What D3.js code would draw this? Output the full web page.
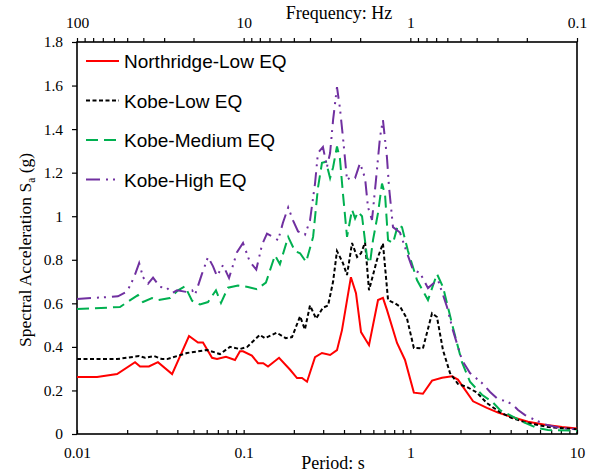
<!DOCTYPE html>
<html>
<head>
<meta charset="utf-8">
<script src="https://cdn.jsdelivr.net/npm/d3@7"></script>
<style>
  body { margin: 0; background: #fff; }
  .tick text { font-family: "Liberation Serif", "Times New Roman", serif; font-size: 15.5px; fill: #000; }
  .tick line { stroke: #000; stroke-width: 1.2; }
  .domain { display: none; }
</style>
</head>
<body>
<div id="chart"></div>
<script>
// period (s) and spectral acceleration (g)
const northridgeLowT = [0.01, 0.0132, 0.0174, 0.0223, 0.0239, 0.027, 0.0306, 0.0372, 0.047, 0.0532, 0.057, 0.0646, 0.0692, 0.0783, 0.0887, 0.095, 0.0991, 0.112, 0.122, 0.131, 0.14, 0.163, 0.19, 0.209, 0.224, 0.24, 0.268, 0.295, 0.33, 0.363, 0.389, 0.44, 0.472, 0.506, 0.565, 0.64, 0.685, 0.724, 0.832, 0.929, 1.05, 1.19, 1.35, 1.55, 1.78, 1.93, 2.38, 2.88, 3.36, 4.07, 5.08, 6.43, 8.13, 10];
const northridgeLowSa = [0.262, 0.262, 0.275, 0.33, 0.31, 0.31, 0.33, 0.275, 0.45, 0.42, 0.42, 0.35, 0.345, 0.355, 0.34, 0.38, 0.38, 0.36, 0.325, 0.325, 0.31, 0.35, 0.295, 0.257, 0.257, 0.24, 0.353, 0.372, 0.363, 0.385, 0.477, 0.72, 0.647, 0.468, 0.408, 0.615, 0.625, 0.57, 0.418, 0.34, 0.19, 0.185, 0.245, 0.258, 0.265, 0.25, 0.15, 0.12, 0.098, 0.078, 0.056, 0.042, 0.032, 0.025];

const kobeLowT = [0.01, 0.0174, 0.0236, 0.0256, 0.029, 0.0324, 0.0347, 0.0457, 0.0603, 0.0721, 0.0828, 0.095, 0.105, 0.125, 0.134, 0.158, 0.179, 0.195, 0.218, 0.233, 0.25, 0.272, 0.299, 0.321, 0.344, 0.363, 0.394, 0.417, 0.447, 0.479, 0.506, 0.535, 0.565, 0.631, 0.685, 0.735, 0.809, 0.867, 0.955, 1.05, 1.19, 1.35, 1.445, 1.57, 1.73, 1.93, 2.19, 2.51, 2.88, 3.45, 4.07, 5.08, 6.7, 10];
const kobeLowSa = [0.344, 0.344, 0.358, 0.35, 0.358, 0.344, 0.344, 0.372, 0.386, 0.367, 0.4, 0.39, 0.4, 0.455, 0.44, 0.465, 0.44, 0.445, 0.54, 0.48, 0.59, 0.53, 0.58, 0.59, 0.7, 0.84, 0.785, 0.73, 0.877, 0.813, 0.83, 0.88, 0.66, 0.8, 0.875, 0.615, 0.6, 0.585, 0.53, 0.395, 0.393, 0.555, 0.537, 0.385, 0.28, 0.23, 0.216, 0.19, 0.142, 0.1, 0.073, 0.05, 0.032, 0.022];

const kobeMediumT = [0.01, 0.0181, 0.0232, 0.0249, 0.0282, 0.0306, 0.0361, 0.0404, 0.0445, 0.049, 0.0547, 0.0611, 0.0682, 0.0731, 0.0805, 0.0925, 0.106, 0.12, 0.136, 0.154, 0.165, 0.185, 0.203, 0.218, 0.237, 0.261, 0.279, 0.295, 0.312, 0.33, 0.344, 0.363, 0.378, 0.394, 0.417, 0.447, 0.466, 0.485, 0.513, 0.55, 0.573, 0.597, 0.64, 0.676, 0.705, 0.735, 0.787, 0.843, 0.891, 0.968, 1.096, 1.276, 1.445, 1.57, 1.8, 2.04, 2.28, 2.69, 3.13, 3.45, 3.96, 4.74, 5.75, 6.7, 10];
const kobeMediumSa = [0.574, 0.583, 0.638, 0.606, 0.624, 0.615, 0.624, 0.66, 0.678, 0.612, 0.595, 0.606, 0.66, 0.602, 0.672, 0.682, 0.675, 0.665, 0.695, 0.82, 0.78, 0.905, 0.84, 0.83, 0.79, 0.905, 1.13, 1.245, 1.25, 1.175, 1.225, 1.32, 1.265, 1.105, 0.905, 1.03, 0.99, 1.02, 1.0, 0.81, 0.785, 0.89, 1.015, 1.15, 1.1, 0.89, 0.877, 0.96, 0.95, 0.84, 0.707, 0.615, 0.735, 0.675, 0.49, 0.33, 0.24, 0.18, 0.145, 0.11, 0.087, 0.055, 0.028, 0.018, 0.015];

const kobeHighT = [0.01, 0.0176, 0.02, 0.022, 0.0236, 0.0249, 0.0267, 0.0286, 0.0315, 0.0347, 0.0372, 0.0398, 0.0457, 0.049, 0.0511, 0.0562, 0.0611, 0.0655, 0.0692, 0.0752, 0.0817, 0.0912, 0.0991, 0.109, 0.119, 0.129, 0.138, 0.15, 0.161, 0.172, 0.185, 0.198, 0.212, 0.233, 0.25, 0.268, 0.279, 0.299, 0.316, 0.33, 0.344, 0.363, 0.378, 0.394, 0.417, 0.44, 0.466, 0.499, 0.535, 0.557, 0.589, 0.622, 0.658, 0.685, 0.724, 0.745, 0.787, 0.867, 0.955, 1.038, 1.143, 1.276, 1.368, 1.466, 1.66, 1.8, 2.04, 2.28, 2.69, 3.01, 3.36, 3.7, 4.07, 4.43, 4.88, 5.6, 6.61, 7.91, 10];
const kobeHighSa = [0.62, 0.632, 0.655, 0.72, 0.785, 0.72, 0.69, 0.718, 0.675, 0.67, 0.647, 0.66, 0.652, 0.66, 0.64, 0.735, 0.813, 0.77, 0.725, 0.776, 0.716, 0.835, 0.877, 0.79, 0.755, 0.87, 0.92, 0.905, 0.89, 0.97, 1.04, 0.98, 0.93, 0.914, 0.98, 1.15, 1.29, 1.318, 1.226, 1.29, 1.442, 1.593, 1.497, 1.364, 1.166, 1.18, 1.175, 1.244, 1.175, 1.042, 0.983, 1.166, 1.364, 1.442, 1.27, 1.134, 0.95, 0.925, 0.831, 0.753, 0.74, 0.67, 0.69, 0.707, 0.583, 0.477, 0.34, 0.28, 0.234, 0.193, 0.16, 0.152, 0.138, 0.11, 0.087, 0.064, 0.041, 0.028, 0.022];

const seriesNames = ['Northridge-Low EQ', 'Kobe-Low EQ', 'Kobe-Medium EQ', 'Kobe-High EQ'];
const yTicks = [0, 0.2, 0.4, 0.6, 0.8, 1, 1.2, 1.4, 1.6, 1.8];
const periodLabels = [0.01, 0.1, 1, 10];
const freqLabels = [100, 10, 1, 0.1];

const width = 595, height = 472;
const margin = { left: 77, top: 42, right: 18, bottom: 38 };

const series = [
    { name: seriesNames[0], t: northridgeLowT, sa: northridgeLowSa, color: '#ff0000', dash: null },
    { name: seriesNames[1], t: kobeLowT, sa: kobeLowSa, color: '#000000', dash: '4,2.5' },
    { name: seriesNames[2], t: kobeMediumT, sa: kobeMediumSa, color: '#00b050', dash: '12,6' },
    { name: seriesNames[3], t: kobeHighT, sa: kobeHighSa, color: '#7030a0', dash: '14,6,2,5,2,6' }
];

const x = d3.scaleLog().domain([0.01, 10]).range([margin.left, width - margin.right]);
const xf = d3.scaleLog().domain([100, 0.1]).range([margin.left, width - margin.right]);
const y = d3.scaleLinear().domain([0, 1.8]).range([height - margin.bottom, margin.top]);

// minor log ticks: 1..9 in each decade
function logTicks(lo, hi) {
    const out = [];
    for (let e = Math.log10(lo); e < Math.log10(hi); e++) {
        for (let k = 1; k < 10; k++) out.push(k * Math.pow(10, e));
    }
    out.push(hi);
    return out;
}
const isLabel = (list) => (d) => list.some(v => Math.abs(v - d) / v < 1e-6);

const svg = d3.select('#chart').append('svg')
    .attr('width', width)
    .attr('height', height);

svg.append('rect').attr('width', width).attr('height', height).attr('fill', '#fff');

// axes
svg.append('g')
    .attr('transform', `translate(${margin.left},0)`)
    .call(d3.axisLeft(y).tickValues(yTicks).tickSize(5).tickPadding(9)
        .tickFormat(d => String(+d.toFixed(1))));

svg.append('g')
    .attr('transform', `translate(0,${height - margin.bottom})`)
    .call(d3.axisBottom(x).tickValues(logTicks(0.01, 10)).tickSize(-4).tickPadding(13)
        .tickFormat(d => isLabel(periodLabels)(d) ? String(+d.toPrecision(3)) : ''));

svg.append('g')
    .attr('transform', `translate(0,${margin.top})`)
    .call(d3.axisTop(xf).tickValues(logTicks(0.1, 100)).tickSize(4).tickPadding(10)
        .tickFormat(d => isLabel(freqLabels)(d) ? String(+d.toPrecision(3)) : ''));

// plot frame
svg.append('rect')
    .attr('x', margin.left).attr('y', margin.top)
    .attr('width', width - margin.left - margin.right)
    .attr('height', height - margin.top - margin.bottom)
    .attr('fill', 'none').attr('stroke', '#000').attr('stroke-width', 1.6);

// curves
const line = d3.line().x(d => x(d[0])).y(d => y(d[1]));
const plot = svg.append('g');
series.forEach(s => {
    plot.append('path')
        .datum(s.t.map((t, i) => [t, s.sa[i]]))
        .attr('d', line)
        .attr('fill', 'none')
        .attr('stroke', s.color)
        .attr('stroke-width', 2)
        .attr('stroke-dasharray', s.dash);
});

// legend
const legend = svg.append('g');
series.forEach((s, i) => {
    const ly = 61 + i * 39.5;
    legend.append('line')
        .attr('x1', 86).attr('x2', 119).attr('y1', ly).attr('y2', ly)
        .attr('stroke', s.color).attr('stroke-width', 2)
        .attr('stroke-dasharray', s.dash);
    legend.append('text')
        .attr('x', 124).attr('y', ly + 7)
        .attr('font-family', '"Liberation Sans", Arial, sans-serif')
        .attr('font-size', 19)
        .text(s.name);
});

// titles
const serif = '"Liberation Serif", "Times New Roman", serif';
svg.append('text')
    .attr('x', 339).attr('y', 19)
    .attr('text-anchor', 'middle')
    .attr('font-family', serif).attr('font-size', 18)
    .text('Frequency: Hz');

svg.append('text')
    .attr('x', 333).attr('y', 469)
    .attr('text-anchor', 'middle')
    .attr('font-family', serif).attr('font-size', 18)
    .text('Period: s');

const yTitle = svg.append('text')
    .attr('transform', 'translate(31,250) rotate(-90)')
    .attr('text-anchor', 'middle')
    .attr('font-family', serif).attr('font-size', 17.5);
yTitle.append('tspan').text('Spectral Acceleration S');
yTitle.append('tspan').attr('font-size', 11.5).attr('dy', 4).text('a');
yTitle.append('tspan').attr('dy', -4).text(' (g)');
</script>
</body>
</html>
